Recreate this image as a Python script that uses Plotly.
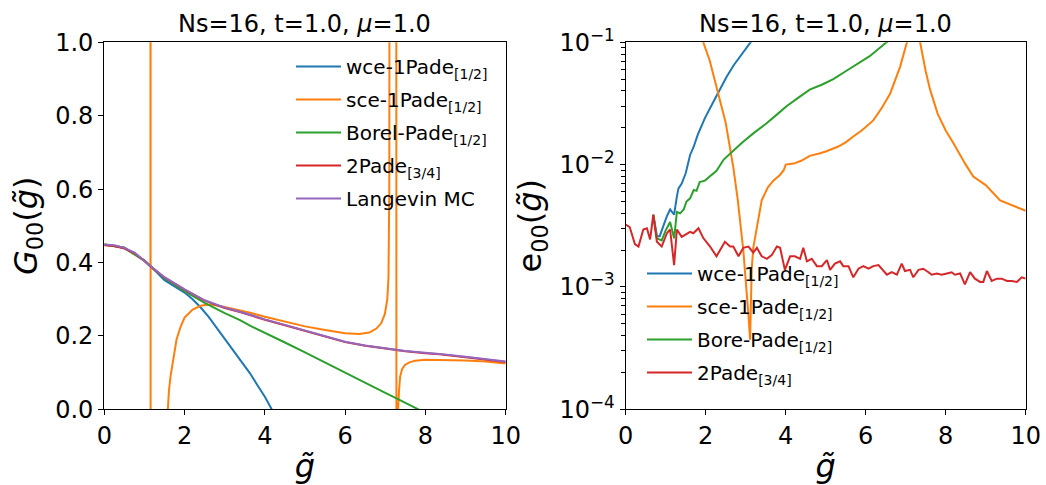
import plotly.graph_objects as go

# ---------------- data: left panel G00(g) ----------------
g_mc = [0.0, 0.25, 0.5, 0.75, 1.0, 1.155, 1.5, 2.0, 2.5, 3.0, 3.38, 3.63, 4.0, 4.5, 5.0,
        5.5, 6.0, 6.5, 7.0, 7.28, 7.5, 8.0, 8.35, 9.0, 9.5, 10.0]
G_mc = [0.449, 0.447, 0.440, 0.427, 0.405, 0.390, 0.360, 0.327, 0.297, 0.277, 0.266, 0.257,
        0.245, 0.230, 0.215, 0.200, 0.184, 0.174, 0.166, 0.162, 0.159, 0.154, 0.151, 0.143,
        0.136, 0.130]
G_2pade = [0.447, 0.445, 0.438, 0.426, 0.404, 0.389, 0.359, 0.326, 0.296, 0.276, 0.265, 0.256,
           0.244, 0.229, 0.214, 0.199, 0.183, 0.173, 0.165, 0.161, 0.158, 0.153, 0.150, 0.142,
           0.135, 0.129]

g_wce = [0.0, 0.5, 1.0, 1.155, 1.3, 1.5, 1.75, 2.0, 2.2, 2.38, 2.6, 2.8, 3.0, 3.2, 3.4, 3.63,
         3.8, 4.0, 4.17, 4.3]
G_wce = [0.449, 0.440, 0.405, 0.390, 0.374, 0.352, 0.335, 0.318, 0.300, 0.280, 0.252, 0.222,
         0.193, 0.163, 0.133, 0.098, 0.068, 0.034, 0.0, -0.025]

g_borel = [0.0, 0.5, 1.0, 1.155, 1.5, 2.0, 2.5, 3.0, 3.38, 3.63, 4.0, 4.5, 5.0, 5.5, 6.0, 6.5,
           7.0, 7.28, 7.5, 7.82, 8.0]
G_borel = [0.449, 0.440, 0.405, 0.390, 0.357, 0.322, 0.290, 0.262, 0.243, 0.228, 0.209, 0.182,
           0.155, 0.127, 0.100, 0.073, 0.045, 0.030, 0.018, 0.0, -0.010]

g_sce = [0.0, 0.5, 1.0, 1.1, 1.15, 1.152, 1.156, 1.2, 1.3, 1.45, 1.57, 1.61, 1.65, 1.72, 1.8,
         1.9, 2.0, 2.2, 2.4, 2.55, 2.7, 3.0, 3.4, 3.63, 4.0, 4.5, 5.0, 5.5, 6.0, 6.36, 6.6,
         6.78, 6.9, 6.99, 7.05, 7.08, 7.1, 7.12, 7.2, 7.27, 7.285, 7.3, 7.32, 7.345, 7.37, 7.42,
         7.49, 7.6, 7.74, 8.0, 8.5, 9.0, 9.5, 10.0]
G_sce = [0.449, 0.440, 0.405, 0.396, 0.390, 5.0, -5.0, -2.0, -0.8, -0.25, 0.0, 0.05, 0.09, 0.14,
         0.19, 0.225, 0.25, 0.272, 0.282, 0.285, 0.285, 0.279, 0.270, 0.263, 0.252, 0.238,
         0.226, 0.216, 0.207, 0.205, 0.209, 0.220, 0.235, 0.260, 0.300, 0.360, 0.600, 3.0, 5.0,
         3.0, -3.0, -1.0, 0.0, 0.055, 0.089, 0.110, 0.121, 0.128, 0.132, 0.135, 0.135, 0.133,
         0.130, 0.125]

# ---------------- data: right panel e00(g) ----------------
g_e2p = [0.0, 0.1, 0.23, 0.32, 0.44, 0.53, 0.61, 0.69, 0.78, 0.9, 1.03, 1.11, 1.21, 1.28, 1.4,
         1.53, 1.61, 1.69, 1.82, 1.94, 2.11, 2.27, 2.36, 2.48, 2.61, 2.69, 2.82, 2.94, 3.07,
         3.19, 3.28, 3.4, 3.53, 3.65, 3.78, 3.86, 3.98, 4.11, 4.23, 4.36, 4.44, 4.53, 4.65,
         4.78, 4.9, 5.03, 5.11, 5.23, 5.36, 5.44, 5.57, 5.69, 5.82, 5.94, 6.07, 6.19, 6.32,
         6.44, 6.53, 6.65, 6.78, 6.9, 6.98, 7.11, 7.19, 7.32, 7.44, 7.57, 7.65, 7.78, 7.9,
         8.03, 8.15, 8.23, 8.36, 8.48, 8.61, 8.73, 8.86, 8.94, 9.03, 9.15, 9.28, 9.4, 9.53,
         9.65, 9.78, 9.9, 10.0]
e_2pade = [3.24e-3, 3.09e-3, 2.24e-3, 2.14e-3, 2.95e-3, 3.02e-3, 2.45e-3, 3.89e-3, 2.34e-3,
           2.14e-3, 2.75e-3, 2.95e-3, 1.51e-3, 2.95e-3, 2.57e-3, 2.75e-3, 2.82e-3, 2.75e-3,
           3.02e-3, 2.51e-3, 2.14e-3, 1.78e-3, 2.00e-3, 2.34e-3, 2.14e-3, 2.14e-3, 1.78e-3,
           2.09e-3, 2.14e-3, 1.91e-3, 2.09e-3, 1.78e-3, 1.70e-3, 1.82e-3, 2.14e-3, 2.09e-3,
           1.38e-3, 1.78e-3, 1.78e-3, 1.70e-3, 2.09e-3, 1.62e-3, 1.70e-3, 1.48e-3, 1.48e-3,
           1.66e-3, 1.38e-3, 1.55e-3, 1.62e-3, 1.48e-3, 1.48e-3, 1.20e-3, 1.41e-3, 1.48e-3,
           1.41e-3, 1.48e-3, 1.51e-3, 1.35e-3, 1.26e-3, 1.32e-3, 1.26e-3, 1.55e-3, 1.35e-3,
           1.38e-3, 1.20e-3, 1.38e-3, 1.41e-3, 1.32e-3, 1.26e-3, 1.29e-3, 1.26e-3, 1.29e-3,
           1.32e-3, 1.26e-3, 1.29e-3, 1.05e-3, 1.32e-3, 1.17e-3, 1.10e-3, 1.10e-3, 1.35e-3,
           1.12e-3, 1.17e-3, 1.17e-3, 1.12e-3, 1.12e-3, 1.10e-3, 1.20e-3, 1.17e-3]

g_ewce = [0.69, 0.78, 0.85, 0.95, 1.03, 1.11, 1.21, 1.28, 1.32, 1.4, 1.5, 1.61, 1.7, 1.8, 1.98,
          2.2, 2.4, 2.52, 2.7, 2.9, 3.11, 3.3]
e_wce = [3.9e-3, 2.6e-3, 2.6e-3, 3.2e-3, 3.8e-3, 4.3e-3, 3.9e-3, 5.5e-3, 6.4e-3, 7.0e-3, 8.5e-3,
         1.2e-2, 1.4e-2, 1.75e-2, 2.4e-2, 3.3e-2, 4.4e-2, 5.2e-2, 6.5e-2, 8.0e-2, 1.0e-1, 1.2e-1]

g_eborel = [0.69, 0.78, 0.9, 1.0, 1.11, 1.21, 1.28, 1.36, 1.45, 1.52, 1.61, 1.7, 1.77, 1.85,
            1.98, 2.1, 2.27, 2.45, 2.69, 2.9, 3.19, 3.5, 3.8, 4.02, 4.3, 4.6, 4.9, 5.19, 5.5,
            5.8, 6.1, 6.52, 6.8]
e_borel = [3.9e-3, 2.5e-3, 2.4e-3, 2.9e-3, 3.4e-3, 2.5e-3, 4.1e-3, 4.0e-3, 4.3e-3, 5.0e-3,
           5.3e-3, 6.2e-3, 6.1e-3, 7.2e-3, 7.4e-3, 8.0e-3, 8.9e-3, 1.1e-2, 1.3e-2, 1.5e-2,
           1.8e-2, 2.15e-2, 2.6e-2, 3.0e-2, 3.5e-2, 4.1e-2, 4.5e-2, 5.0e-2, 5.8e-2, 6.7e-2,
           7.7e-2, 1.0e-1, 1.15e-1]

g_esce = [1.85, 1.94, 2.1, 2.36, 2.5, 2.69, 2.8, 2.94, 3.02, 3.07, 3.11, 3.15, 3.19, 3.3, 3.4,
          3.55, 3.69, 3.85, 3.95, 4.0, 4.2, 4.4, 4.6, 4.86, 5.0, 5.3, 5.5, 5.69, 5.9, 6.19,
          6.4, 6.61, 6.86, 7.03, 7.1, 7.3, 7.36, 7.5, 7.61, 7.8, 8.0, 8.19, 8.35, 8.5, 8.69,
          9.0, 9.36, 9.7, 10.0]
e_sce = [0.2, 0.1, 7.1e-2, 3.4e-2, 2.2e-2, 9.5e-3, 5.2e-3, 2.0e-3, 1.0e-3, 5.8e-4, 3.7e-4,
         1.4e-3, 2.1e-3, 3.5e-3, 5.1e-3, 6.5e-3, 7.4e-3, 8.2e-3, 9.0e-3, 1.0e-2, 1.02e-2,
         1.08e-2, 1.18e-2, 1.24e-2, 1.28e-2, 1.40e-2, 1.52e-2, 1.7e-2, 1.9e-2, 2.3e-2, 2.9e-2,
         3.8e-2, 6.3e-2, 1.0e-1, 2.0e-1, 2.0e-1, 1.0e-1, 5.8e-2, 4.1e-2, 2.6e-2, 1.9e-2,
         1.5e-2, 1.2e-2, 1.0e-2, 8.0e-3, 6.8e-3, 5.1e-3, 4.6e-3, 4.2e-3]

x_ticks = [0, 2, 4, 6, 8, 10]
y_ticks_left = [0.0, 0.2, 0.4, 0.6, 0.8, 1.0]
y_ticks_right = [1e-4, 1e-3, 1e-2, 1e-1]
y_ticktext_right = ["10<sup>\u22124</sup>", "10<sup>\u22123</sup>", "10<sup>\u22122</sup>",
                    "10<sup>\u22121</sup>"]
y_minor_right = [m * d for d in (1e-4, 1e-3, 1e-2) for m in range(2, 10)]

title_text = "Ns=16, t=1.0, <i>\u03bc</i>=1.0"

BLUE, ORANGE, GREEN, RED, PURPLE = "#1f77b4", "#ff7f0e", "#2ca02c", "#d62728", "#9467bd"
FONT = "DejaVu Sans"
LW = 2

fig = go.Figure()

left = [
    (g_wce, G_wce, BLUE, "wce-1Pade<sub>[1/2]</sub>"),
    (g_sce, G_sce, ORANGE, "sce-1Pade<sub>[1/2]</sub>"),
    (g_borel, G_borel, GREEN, "Borel-Pade<sub>[1/2]</sub>"),
    (g_mc, G_2pade, RED, "2Pade<sub>[3/4]</sub>"),
    (g_mc, G_mc, PURPLE, "Langevin MC"),
]
for i, (xs, ys, c, name) in enumerate(left):
    fig.add_trace(go.Scatter(x=xs, y=ys, mode="lines", name=name,
                             line=dict(color=c, width=LW), legendgroup="L%d" % i,
                             xaxis="x", yaxis="y", legend="legend"))

# invisible carrier trace so the minor-tick overlay axis is drawn
fig.add_trace(go.Scatter(x=g_e2p, y=e_2pade, mode="lines", line=dict(width=0),
                         opacity=0, showlegend=False, hoverinfo="skip",
                         xaxis="x2", yaxis="y3"))

right = [
    (g_ewce, e_wce, BLUE, "wce-1Pade<sub>[1/2]</sub>"),
    (g_esce, e_sce, ORANGE, "sce-1Pade<sub>[1/2]</sub>"),
    (g_eborel, e_borel, GREEN, "Bore-Pade<sub>[1/2]</sub>"),
    (g_e2p, e_2pade, RED, "2Pade<sub>[3/4]</sub>"),
]
for i, (xs, ys, c, name) in enumerate(right):
    fig.add_trace(go.Scatter(x=xs, y=ys, mode="lines", name=name,
                             line=dict(color=c, width=LW), legendgroup="R%d" % i,
                             xaxis="x2", yaxis="y2", legend="legend2"))

W, H = 1046, 485
def px_x(p):
    return p / W
def px_y(p):
    return 1 - p / H

axis_common = dict(showline=True, linecolor="black", linewidth=1.2, mirror=True,
                   ticks="outside", ticklen=5, tickwidth=1.2, tickcolor="black",
                   showgrid=False, zeroline=False, automargin=False,
                   tickfont=dict(family=FONT, size=24, color="black"))

fig.update_layout(
    width=W, height=H,
    margin=dict(l=0, r=0, t=0, b=0, autoexpand=False),
    paper_bgcolor="white", plot_bgcolor="white",
    font=dict(family=FONT, color="black"),
    xaxis=dict(domain=[px_x(104.3), px_x(505.7)], range=[0, 10], tickvals=x_ticks,
               anchor="y",
               title=dict(text="<i>g\u0303</i>", font=dict(family=FONT, size=32), standoff=6),
               **axis_common),
    yaxis=dict(domain=[px_y(409.3), px_y(42.3)], range=[0, 1], tickvals=y_ticks_left,
               tickformat=".1f", anchor="x",
               title=dict(text="<i>G</i><sub>00</sub>(<i>g\u0303</i>)",
                          font=dict(family=FONT, size=32), standoff=8),
               **axis_common),
    xaxis2=dict(domain=[px_x(625.7), px_x(1025.7)], range=[0, 10], tickvals=x_ticks,
                anchor="y2",
                title=dict(text="<i>g\u0303</i>", font=dict(family=FONT, size=32), standoff=6),
                **axis_common),
    yaxis2=dict(domain=[px_y(409.3), px_y(42.3)], type="log", range=[-4, -1],
                tickvals=y_ticks_right, ticktext=y_ticktext_right, anchor="x2",
                title=dict(text="e<sub>00</sub>(<i>g\u0303</i>)",
                           font=dict(family=FONT, size=32), standoff=8),
                **axis_common),
    yaxis3=dict(domain=[px_y(409.3), px_y(42.3)], type="log", range=[-4, -1],
                overlaying="y2", anchor="x2", side="left",
                tickvals=y_minor_right, showticklabels=False,
                ticks="outside", ticklen=4, tickwidth=1, tickcolor="black",
                showline=False, showgrid=False, zeroline=False, automargin=False),
    legend=dict(x=px_x(291), y=px_y(47), xanchor="left", yanchor="top",
                bgcolor="rgba(255,255,255,0)", font=dict(family=FONT, size=20),
                tracegroupgap=4, itemwidth=45),
    legend2=dict(x=px_x(642), y=px_y(254), xanchor="left", yanchor="top",
                 bgcolor="rgba(255,255,255,0)", font=dict(family=FONT, size=20),
                 tracegroupgap=4, itemwidth=45),
    annotations=[
        dict(text=title_text, x=(px_x(104.3) + px_x(505.7)) / 2, y=px_y(24),
             xref="paper", yref="paper", showarrow=False, xanchor="center",
             yanchor="middle", font=dict(family=FONT, size=24)),
        dict(text=title_text, x=(px_x(625.7) + px_x(1025.7)) / 2, y=px_y(24),
             xref="paper", yref="paper", showarrow=False, xanchor="center",
             yanchor="middle", font=dict(family=FONT, size=24)),
    ],
)

fig.write_html("out.html")
